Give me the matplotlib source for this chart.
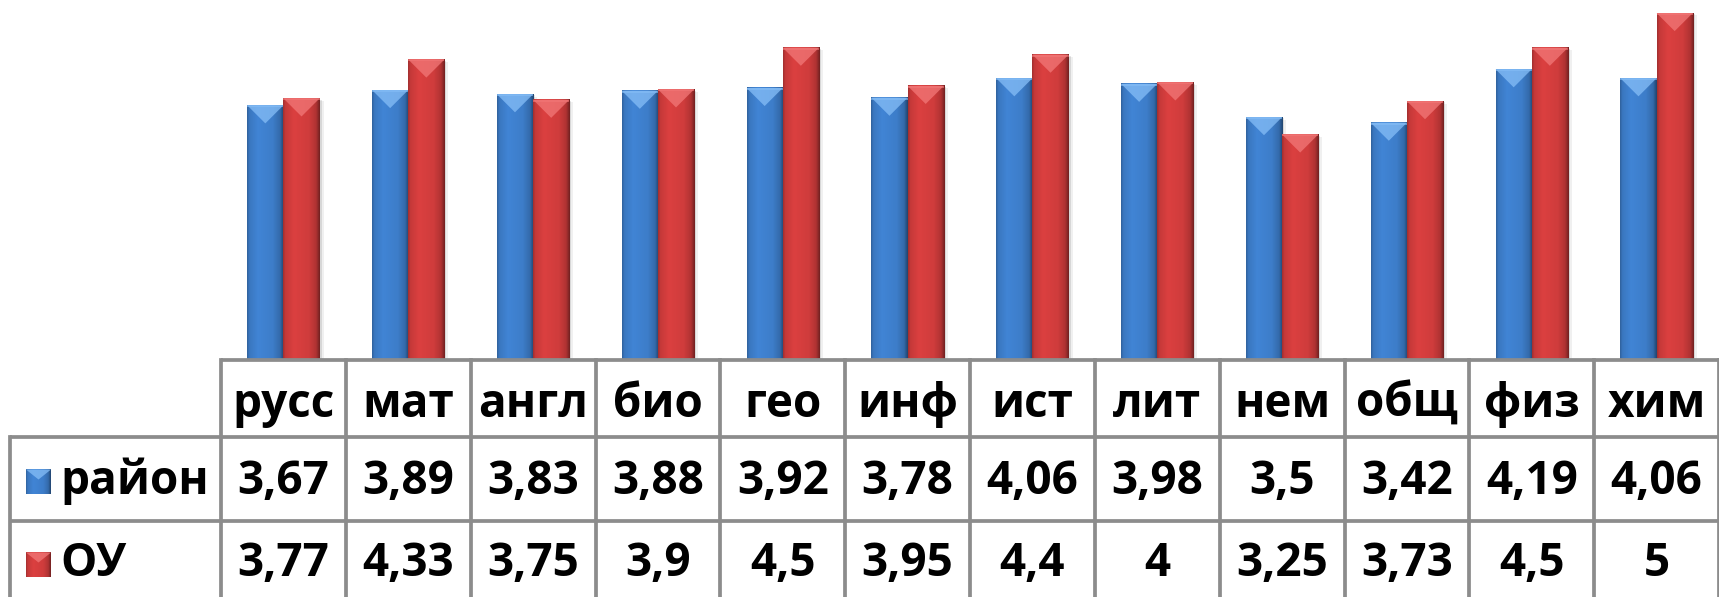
import numpy as np
import matplotlib
matplotlib.use("Agg")
import matplotlib.pyplot as plt
from matplotlib.patches import Polygon, Rectangle
from matplotlib.colors import to_rgb

# ---- data ----
categories = ["русс", "мат", "англ", "био", "гео", "инф", "ист", "лит", "нем", "общ", "физ", "хим"]
series_names = ["район", "ОУ"]
rayon = [3.67, 3.89, 3.83, 3.88, 3.92, 3.78, 4.06, 3.98, 3.5, 3.42, 4.19, 4.06]
ou = [3.77, 4.33, 3.75, 3.9, 4.5, 3.95, 4.4, 4, 3.25, 3.73, 4.5, 5]

W, H = 1719, 597
DPI = 100
plt.rcParams['font.family'] = ['Open Sans', 'DejaVu Sans']

fig = plt.figure(figsize=(W / DPI, H / DPI), dpi=DPI)
fig.patch.set_facecolor('white')

# geometry (pixels)
col_left = 221
col_w = (W - col_left) / 12.0
base_y = 360
top_y = 13
row_lines = [360, 437, 521]
left_x = 10

ax = fig.add_axes([col_left / W, 1 - base_y / H, 1 - col_left / W, (base_y - top_y) / H])
ax.set_xlim(-0.5, 11.5)
ax.set_ylim(0, 5)
ax.axis('off')

colors = {
    "район": dict(base="#3D7DC9", light="#86BEF7", dark="#234F8C"),
    "ОУ": dict(base="#CF3C3C", light="#F27878", dark="#862020"),
}

px_per_unit = (base_y - top_y) / 5.0
x = np.arange(len(categories))
bw = 0.29


def shade_profile(n=80):
    t = np.linspace(0, 1, n)
    f = np.interp(t, [0, 0.06, 0.3, 0.7, 0.9, 1.0], [0.78, 0.95, 1.06, 1.0, 0.85, 0.55])
    return f


def bevel_bar(ax, xl, w, h, c, pxu, zo=3):
    base = np.array(to_rgb(c["base"]))
    f = shade_profile()
    img = np.clip(base[None, :] * f[:, None], 0, 1)[None, :, :]
    # shadow
    for k, a in [(4, 0.10), (8, 0.06)]:
        ax.add_patch(Rectangle((xl + k / col_w * 0.5, 0), w, h - k / pxu * 0.3,
                               facecolor='black', alpha=a, lw=0, zorder=zo - 1))
    ax.imshow(img, extent=(xl, xl + w, 0, h), aspect='auto', zorder=zo,
              interpolation='bilinear')
    d = (w * col_w) * 0.5 / pxu
    ax.add_patch(Polygon([(xl, h), (xl + w, h), (xl + w / 2, h - d)],
                         closed=True, facecolor=c["light"], edgecolor='none',
                         alpha=0.75, zorder=zo + 1))
    ax.add_patch(Rectangle((xl, h - 2.0 / pxu), w, 2.0 / pxu, facecolor=c["light"],
                           alpha=0.6, lw=0, zorder=zo + 1))


for i in x:
    bevel_bar(ax, i - bw, bw, rayon[i], colors["район"], px_per_unit)
    bevel_bar(ax, i, bw, ou[i], colors["ОУ"], px_per_unit)
ax.set_xlim(-0.5, 11.5)
ax.set_ylim(0, 5)

# ---- data table ----
axt = fig.add_axes([0, 0, 1, 1], zorder=5)
axt.set_xlim(0, W)
axt.set_ylim(H, 0)
axt.axis('off')
axt.patch.set_alpha(0)

lc = "#8C8C8C"
lw = 2.7
axt.plot([col_left, W], [row_lines[0], row_lines[0]], color=lc, lw=lw, solid_capstyle='butt')
for yy in row_lines[1:]:
    axt.plot([left_x, W], [yy, yy], color=lc, lw=lw, solid_capstyle='butt')
axt.plot([left_x, left_x], [row_lines[1], H], color=lc, lw=lw)
for k in range(13):
    xx = col_left + k * col_w
    axt.plot([xx, xx], [row_lines[0], H], color=lc, lw=lw)


def fmt(v):
    return f"{v:g}".replace('.', ',')


fs = 33
txt_kw = dict(ha='center', va='center', fontsize=fs, fontweight='bold', color='black')
hy = (row_lines[0] + row_lines[1]) / 2 + 2
r1y = (row_lines[1] + row_lines[2]) / 2 + 2
r2y = row_lines[2] + (row_lines[2] - row_lines[1]) / 2 + 1
for k, cat in enumerate(categories):
    cx = col_left + (k + 0.5) * col_w
    axt.text(cx, hy + 4, cat, **txt_kw)
    axt.text(cx, r1y, fmt(rayon[k]), **txt_kw)
    axt.text(cx, r2y, fmt(ou[k]), **txt_kw)

# legend keys + row labels
for name, yy in zip(series_names, [r1y, r2y]):
    c = colors[name]
    s = 25
    x0, y0 = 26, yy - s / 2 + 1
    base = np.array(to_rgb(c["base"]))
    f = shade_profile()
    img = np.clip(base[None, :] * f[:, None], 0, 1)[None, :, :]
    axt.imshow(img, extent=(x0, x0 + s, y0 + s, y0), aspect='auto', zorder=6,
               interpolation='bilinear')
    axt.add_patch(Polygon([(x0, y0), (x0 + s, y0), (x0 + s / 2, y0 + s * 0.4)],
                          closed=True, facecolor=c["light"], edgecolor='none',
                          alpha=0.75, zorder=7))
    axt.text(60, yy, name, ha='left', va='center', fontsize=fs, fontweight='bold',
             color='black')
axt.set_xlim(0, W)
axt.set_ylim(H, 0)

fig.savefig("out.png", dpi=DPI, facecolor='white')
